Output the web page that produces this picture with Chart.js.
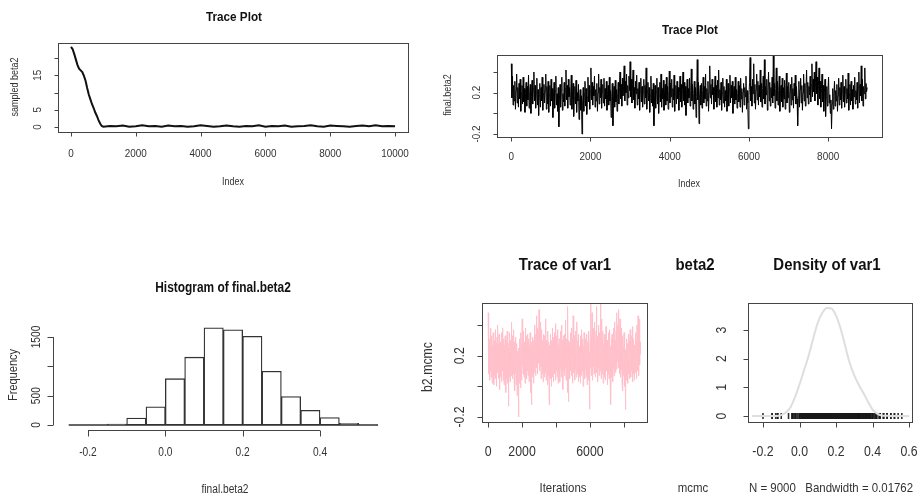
<!DOCTYPE html>
<html>
<head>
<meta charset="utf-8">
<script src="https://cdn.jsdelivr.net/npm/chart.js@4.4.0/dist/chart.umd.min.js"></script>
<style>
  body { margin: 0; background: #fff; }
  #wrap { position: relative; width: 920px; height: 499px; overflow: hidden; }
  #wrap canvas { position: absolute; left: 0; top: 0; }
</style>
</head>
<body>
<div id="wrap">
  <canvas id="burn" width="920" height="499"></canvas>
  <canvas id="trace" width="920" height="499"></canvas>
  <canvas id="hist" width="920" height="499"></canvas>
  <canvas id="mcmcTrace" width="920" height="499"></canvas>
  <canvas id="mcmcDens" width="920" height="499"></canvas>
</div>
<script>
// ---- data ----
// top-left: full chain incl. burn-in
var burnIter = [0, 50, 100, 150, 200, 250, 300, 350, 400, 450, 500, 550, 600, 650, 700, 750, 800, 850, 900, 950,
  1000, 1200, 1400, 1600, 1800, 2000, 2200, 2400, 2600, 2800, 3000, 3200, 3400, 3600, 3800, 4000,
  4200, 4400, 4600, 4800, 5000, 5200, 5400, 5600, 5800, 6000, 6200, 6400, 6600, 6800, 7000,
  7200, 7400, 7600, 7800, 8000, 8200, 8400, 8600, 8800, 9000, 9200, 9400, 9600, 9800, 10000];
var burnBeta2 = [23.2, 22.6, 21.2, 19.6, 18.0, 16.9, 16.4, 15.9, 14.8, 13.4, 11.3, 9.4, 8.0, 6.6, 5.5, 4.2, 3.2, 2.0, 1.0, 0.3,
  0.1, 0.3, 0.2, 0.4, 0.1, 0.2, 0.5, 0.2, 0.3, 0.1, 0.4, 0.2, 0.3, 0.1, 0.2, 0.5,
  0.3, 0.1, 0.2, 0.4, 0.2, 0.1, 0.3, 0.2, 0.5, 0.1, 0.3, 0.2, 0.4, 0.1, 0.2,
  0.3, 0.5, 0.2, 0.1, 0.4, 0.3, 0.2, 0.1, 0.3, 0.4, 0.2, 0.5, 0.2, 0.3, 0.2];

// kept chain (final.beta2 / b2.mcmc), one value per 15 iterations
var traceStep = 15;
var traceBeta2 = [
  0.48, 0.15, 0.36, 0.08, 0.27, 0.12, 0.31, 0.04, 0.22, 0.38, 0.10, 0.25, 0.06, 0.29, 0.14, 0.33, 0.02, 0.20, 0.27, 0.09,
  0.35, 0.11, 0.24, 0.01, 0.19, 0.30, 0.07, 0.26, 0.13, 0.37, 0.05, 0.21, 0.28, 0.00, 0.16, 0.32, 0.09, 0.24, 0.40, 0.12,
  0.27, 0.05, 0.20, 0.34, 0.08, 0.23, -0.02, 0.17, 0.29, 0.06, 0.25, 0.12, 0.35, 0.03, 0.19, 0.28, 0.10, 0.22, 0.38, 0.04,
  0.26, 0.09, 0.31, 0.01, 0.18, 0.27, 0.07, 0.33, 0.12, 0.24, -0.04, 0.16, 0.30, 0.05, 0.21, 0.36, 0.08, 0.19, 0.02, 0.25,
  -0.13, 0.14, 0.28, 0.06, 0.22, 0.35, 0.03, 0.19, 0.11, 0.30, 0.07, 0.24, 0.42, 0.13, 0.27, 0.05, 0.33, 0.16, 0.25, 0.08,
  0.21, 0.37, 0.04, 0.18, 0.29, -0.03, 0.15, 0.26, 0.09, 0.32, 0.01, 0.20, 0.12, 0.28, -0.06, 0.14, 0.23, 0.03, 0.17, -0.20,
  0.10, 0.25, 0.02, 0.19, 0.31, 0.07, 0.24, -0.01, 0.16, 0.35, 0.11, 0.27, 0.04, 0.22, 0.44, 0.13, 0.30, 0.08, 0.26, 0.17,
  0.36, 0.06, 0.23, 0.12, 0.29, 0.02, 0.20, 0.38, 0.09, 0.25, 0.15, 0.33, 0.05, 0.21, 0.28, 0.10, 0.34, 0.07, 0.24, 0.14,
  0.31, 0.03, 0.18, 0.27, 0.08, 0.35, 0.12, 0.22, -0.04, 0.16, 0.29, -0.12, 0.13, 0.26, 0.06, 0.32, 0.11, 0.23, 0.02, 0.19,
  0.30, 0.09, 0.25, 0.40, 0.14, 0.28, 0.07, 0.34, 0.17, 0.26, 0.46, 0.12, 0.31, 0.20, 0.38, 0.08, 0.27, 0.15, 0.36, 0.22,
  0.50, 0.16, 0.33, 0.10, 0.28, 0.42, 0.13, 0.25, 0.05, 0.31, 0.19, 0.37, 0.08, 0.24, 0.14, 0.30, 0.03, 0.21, 0.34, 0.11,
  0.26, 0.06, 0.20, 0.33, 0.09, 0.27, 0.15, 0.44, 0.04, 0.22, 0.30, 0.12, 0.25, 0.01, 0.18, 0.36, 0.10, 0.23, 0.07, 0.29,
  -0.12, 0.13, 0.27, 0.05, 0.21, 0.34, 0.09, 0.25, 0.00, 0.17, 0.30, 0.11, 0.38, 0.06, 0.24, 0.14, 0.32, 0.03, 0.20, 0.28,
  0.08, 0.35, 0.12, 0.26, 0.04, 0.22, 0.41, 0.10, 0.29, 0.16, 0.33, 0.06, 0.24, 0.13, 0.37, 0.02, 0.19, 0.27, 0.09, 0.31,
  0.14, 0.25, 0.03, 0.20, 0.36, 0.11, 0.28, 0.06, 0.23, 0.40, 0.12, 0.30, 0.08, 0.26, -0.02, 0.18, 0.33, 0.10, 0.24, 0.15,
  0.34, 0.07, 0.22, 0.43, 0.12, 0.28, 0.04, 0.19, 0.31, 0.09, 0.25, -0.04, 0.16, 0.52, 0.13, 0.30, -0.10, 0.18, 0.27, 0.08,
  0.29, 0.05, 0.22, 0.35, 0.10, 0.26, 0.14, 0.38, 0.07, 0.24, 0.12, 0.31, 0.02, 0.20, 0.46, 0.15, 0.28, 0.09, 0.33, 0.18,
  0.25, 0.04, 0.21, 0.36, 0.11, 0.27, 0.06, 0.32, 0.15, 0.42, 0.08, 0.23, 0.13, 0.30, 0.03, 0.19, 0.34, 0.10, 0.26, 0.06,
  0.22, 0.12, 0.33, 0.02, 0.18, 0.29, 0.07, 0.24, 0.37, 0.10, 0.27, 0.15, 0.31, 0.00, 0.20, 0.26, 0.09, 0.35, 0.13, 0.23,
  0.05, 0.19, 0.31, 0.11, 0.27, 0.06, 0.34, 0.14, 0.24, 0.01, 0.21, 0.29, 0.08, 0.25, 0.16, 0.36, 0.04, 0.22, 0.10, -0.15,
  0.17, 0.30, 0.54, 0.12, 0.26, 0.07, 0.33, 0.19, 0.48, 0.10, 0.28, 0.04, 0.23, 0.38, 0.13, 0.31, 0.08, 0.27, 0.16, 0.42,
  0.11, 0.29, 0.06, 0.24, 0.36, 0.14, 0.52, 0.09, 0.26, 0.18, 0.33, 0.03, 0.22, 0.40, 0.12, 0.30, 0.07, 0.25, 0.15, 0.35,
  0.10, 0.56, 0.17, 0.29, 0.05, 0.24, 0.44, 0.12, 0.31, 0.08, 0.22, 0.36, 0.02, 0.19, 0.27, 0.11, 0.34, 0.06, 0.25, 0.14,
  0.32, 0.04, 0.21, 0.39, 0.10, 0.26, 0.15, 0.30, 0.01, 0.18, 0.28, 0.08, 0.35, 0.13, 0.24, 0.05, 0.29, 0.17, 0.37, 0.09,
  0.26, 0.14, -0.12, 0.16, 0.31, 0.06, 0.23, 0.34, 0.10, 0.27, 0.03, 0.20, 0.38, 0.12, 0.29, 0.07, 0.24, 0.42, 0.15, 0.30,
  0.09, 0.26, 0.18, 0.36, 0.11, 0.28, 0.48, 0.16, 0.33, 0.21, 0.40, 0.12, 0.30, 0.50, 0.19, 0.35, 0.08, 0.27, 0.44, 0.14,
  0.31, 0.06, 0.24, 0.38, 0.11, 0.27, 0.02, 0.20, 0.33, -0.03, 0.15, 0.26, 0.07, 0.22, 0.35, 0.10, 0.18, 0.00, 0.13, -0.15,
  0.09, 0.24, 0.04, 0.19, 0.31, 0.07, 0.22, 0.12, 0.28, 0.02, 0.17, 0.34, 0.08, 0.25, 0.13, 0.30, 0.05, 0.21, 0.37, 0.11,
  0.26, 0.06, 0.20, 0.33, 0.10, 0.24, 0.14, 0.39, 0.03, 0.19, 0.28, 0.08, 0.31, 0.12, 0.23, 0.04, 0.27, 0.16, 0.35, 0.09,
  0.22, 0.13, 0.30, 0.05, 0.25, 0.40, 0.10, 0.28, 0.17, 0.46, 0.12, 0.33, 0.07, 0.26, 0.19, 0.44, 0.14, 0.29, 0.21, 0.25
];

// histogram of final.beta2
var histMids = [-0.225, -0.175, -0.125, -0.075, -0.025, 0.025, 0.075, 0.125, 0.175, 0.225, 0.275, 0.325, 0.375, 0.425, 0.475, 0.525];
var histCounts = [0, 0, 15, 120, 310, 790, 1156, 1657, 1623, 1512, 917, 484, 250, 128, 30, 5];
var histRange = [-0.25, 0.55];

// density of var1
var densX = [-0.26, -0.15, -0.125, -0.1, -0.075, -0.05, -0.025, 0, 0.025, 0.05, 0.075, 0.1, 0.125, 0.15, 0.175,
  0.2, 0.225, 0.25, 0.275, 0.3, 0.325, 0.35, 0.375, 0.4, 0.425, 0.45, 0.475, 0.5, 0.6];
var densY = [0, 0, 0, 0.03, 0.12, 0.3, 0.65, 1.1, 1.6, 2.1, 2.7, 3.25, 3.6, 3.77, 3.75,
  3.5, 3.05, 2.45, 1.85, 1.42, 1.08, 0.8, 0.5, 0.22, 0.08, 0.02, 0.01, 0, 0];

// tick labels ('' = tick drawn, label dropped like R does)
var burnXTicks = [0, 2000, 4000, 6000, 8000, 10000];
var burnYTicks = [0, 5, 10, 15, 20];
var burnYLabels = ['0', '5', '', '15', ''];
var traceXTicks = [0, 2000, 4000, 6000, 8000];
var traceYTicks = [-0.2, 0, 0.2, 0.4];
var traceYLabels = ['-0.2', '', '0.2', ''];
var histXTicks = [-0.2, 0, 0.2, 0.4];
var histXLabels = ['-0.2', '0.0', '0.2', '0.4'];
var histYTicks = [0, 500, 1000, 1500];
var histYLabels = ['0', '500', '', '1500'];
var mcmcXLabels = ['0', '2000', '', '6000', ''];
var densXTicks = [-0.2, 0, 0.2, 0.4, 0.6];
var densXLabels = ['-0.2', '0.0', '0.2', '0.4', '0.6'];
var densYTicks = [0, 1, 2, 3];

function pts(xs, ys) {
  return xs.map(function (x, i) { return {x: x, y: ys[i]}; });
}
var tracePts = traceBeta2.map(function (v, i) { return {x: i * traceStep + 1, y: v}; });
var rugPts = traceBeta2.map(function (v) { return {x: v, y: 0}; });

// draws text, optionally rotated and a bit narrowed like the original
function txt(ctx, s, x, y, font, rot, sx, align) {
  ctx.save();
  ctx.translate(x, y);
  if (rot) ctx.rotate(-Math.PI / 2);
  ctx.scale(sx || 1, 1);
  ctx.font = font;
  ctx.textAlign = align || 'center';
  ctx.textBaseline = 'middle';
  ctx.fillText(s, 0, 0);
  ctx.restore();
}

// R base-graphics look: box, tick axes, rotated y labels
function rStyle(d) {
  return {
    id: 'rStyle',
    afterDraw: function (chart) {
      var ctx = chart.ctx, a = chart.chartArea, xs = chart.scales.x, ys = chart.scales.y;
      ctx.save();
      ctx.strokeStyle = '#444';
      ctx.fillStyle = '#333';
      ctx.lineWidth = 1;
      if (d.box) ctx.strokeRect(Math.round(a.left) + 0.5, Math.round(a.top) + 0.5, Math.round(a.right - a.left), Math.round(a.bottom - a.top));
      // x axis
      var yb = Math.round(a.bottom) + 0.5;
      var xa = xs.getPixelForValue(d.xTicks[0]), xb = xs.getPixelForValue(d.xTicks[d.xTicks.length - 1]);
      ctx.beginPath();
      ctx.moveTo(xa, yb); ctx.lineTo(xb, yb);
      d.xTicks.forEach(function (t) {
        var px = Math.round(xs.getPixelForValue(t)) + 0.5;
        ctx.moveTo(px, yb); ctx.lineTo(px, yb + d.tl);
      });
      // y axis
      var xl = Math.round(a.left) + 0.5;
      var ya = ys.getPixelForValue(d.yTicks[0]), yc = ys.getPixelForValue(d.yTicks[d.yTicks.length - 1]);
      ctx.moveTo(xl, ya); ctx.lineTo(xl, yc);
      d.yTicks.forEach(function (t) {
        var py = Math.round(ys.getPixelForValue(t)) + 0.5;
        ctx.moveTo(xl, py); ctx.lineTo(xl - d.tl, py);
      });
      ctx.stroke();
      d.xTicks.forEach(function (t, i) {
        var s = d.xLabels ? d.xLabels[i] : String(t);
        if (s) txt(ctx, s, xs.getPixelForValue(t), d.xLabY, d.tickFont, false, d.sx);
      });
      d.yTicks.forEach(function (t, i) {
        var s = d.yLabels ? d.yLabels[i] : String(t);
        if (s) txt(ctx, s, d.yLabX, ys.getPixelForValue(t), d.tickFont, true, d.sx);
      });
      (d.texts || []).forEach(function (t) {
        ctx.fillStyle = t.color || '#333';
        txt(ctx, t.s, t.x, t.y, t.font, t.rot, d.sx, t.align);
      });
      ctx.restore();
    }
  };
}

function makePanel(id, type, datasets, area, xr, yr, deco) {
  return new Chart(document.getElementById(id), {
    type: type,
    data: {datasets: datasets},
    options: {
      responsive: false,
      animation: false,
      events: [],
      layout: {padding: {left: area[0], top: area[1], right: 920 - area[2], bottom: 499 - area[3]}},
      scales: {
        x: {type: 'linear', display: false, offset: false, min: xr[0], max: xr[1], ticks: {stepSize: 100000}},
        y: {type: 'linear', display: false, min: yr[0], max: yr[1]}
      },
      plugins: {legend: {display: false}, tooltip: {enabled: false}}
    },
    plugins: [rStyle(deco)]
  });
}

var F = 'Liberation Sans, Arial, sans-serif';

// 1. Trace Plot (with burn-in)
makePanel('burn', 'line', [{
  data: pts(burnIter, burnBeta2), borderColor: '#111', borderWidth: 2, pointRadius: 0, tension: 0
}], [58, 43, 408, 132], [-400, 10400], [-1.45, 24.35], {
  box: true, tl: 4, xTicks: burnXTicks, yTicks: burnYTicks, yLabels: burnYLabels,
  xLabY: 154, yLabX: 38, tickFont: '11px ' + F, sx: 0.9,
  texts: [
    {s: 'Trace Plot', x: 234, y: 17, font: 'bold 13px ' + F, color: '#111'},
    {s: 'Index', x: 233, y: 182, font: '10px ' + F},
    {s: 'sampled beta2', x: 15, y: 87, font: '10px ' + F, rot: true}
  ]
});

// 2. Trace Plot (kept chain)
makePanel('trace', 'line', [{
  data: tracePts, borderColor: '#000', borderWidth: 1, pointRadius: 0, tension: 0
}], [497, 55, 882, 137], [-360, 9360], [-0.229, 0.565], {
  box: true, tl: 4, xTicks: traceXTicks, yTicks: traceYTicks, yLabels: traceYLabels,
  xLabY: 157, yLabX: 477, tickFont: '11px ' + F, sx: 0.9,
  texts: [
    {s: 'Trace Plot', x: 690, y: 30, font: 'bold 13px ' + F, color: '#111'},
    {s: 'Index', x: 689, y: 184, font: '10px ' + F},
    {s: 'final.beta2', x: 448, y: 95, font: '10px ' + F, rot: true}
  ]
});

// 3. Histogram of final.beta2
makePanel('hist', 'bar', [{
  type: 'line', data: [{x: histRange[0], y: 0}, {x: histRange[1], y: 0}],
  borderColor: '#333', borderWidth: 1.5, pointRadius: 0
}, {
  data: pts(histMids, histCounts), backgroundColor: '#fff', borderColor: '#333', borderWidth: 1.3,
  borderSkipped: false, barPercentage: 1, categoryPercentage: 1
}], [53, 323, 390, 430], [-0.2905, 0.581], [-85, 1739], {
  box: false, tl: 6, xTicks: histXTicks, xLabels: histXLabels, yTicks: histYTicks, yLabels: histYLabels,
  xLabY: 453, yLabX: 37, tickFont: '12px ' + F, sx: 0.85,
  texts: [
    {s: 'Histogram of final.beta2', x: 223, y: 288, font: 'bold 14px ' + F, color: '#111'},
    {s: 'final.beta2', x: 225, y: 490, font: '12px ' + F},
    {s: 'Frequency', x: 13, y: 375, font: '13px ' + F, rot: true}
  ]
});

// 4. Trace of var1 (coda)
makePanel('mcmcTrace', 'line', [{
  data: tracePts, borderColor: '#FFC0CB', borderWidth: 1, pointRadius: 0, tension: 0
}], [482, 303, 647, 422], [-360, 9360], [-0.2326, 0.5435], {
  box: true, tl: 5, xTicks: traceXTicks, xLabels: mcmcXLabels, yTicks: traceYTicks, yLabels: traceYLabels,
  xLabY: 452, yLabX: 460, tickFont: '14px ' + F, sx: 0.88,
  texts: [
    {s: 'Trace of var1', x: 565, y: 265, font: 'bold 17px ' + F, color: '#111'},
    {s: 'beta2', x: 695, y: 265, font: 'bold 17px ' + F, color: '#111'},
    {s: 'Iterations', x: 563, y: 488, font: '13px ' + F},
    {s: 'b2.mcmc', x: 428, y: 367, font: '14px ' + F, rot: true}
  ]
});

// 5. Density of var1 (coda)
makePanel('mcmcDens', 'line', [{
  data: pts(densX, densY), borderColor: '#dedede', borderWidth: 2, pointRadius: 0, cubicInterpolationMode: 'monotone'
}, {
  type: 'scatter', data: rugPts, showLine: false, pointStyle: 'line', rotation: 90, radius: 3,
  borderColor: 'rgba(25,25,25,0.9)', borderWidth: 1.6
}], [748, 303, 912, 422], [-0.282, 0.616], [-0.209, 3.94], {
  box: true, tl: 5, xTicks: densXTicks, xLabels: densXLabels, yTicks: densYTicks,
  xLabY: 452, yLabX: 722, tickFont: '14px ' + F, sx: 0.88,
  texts: [
    {s: 'Density of var1', x: 827, y: 265, font: 'bold 17px ' + F, color: '#111'},
    {s: 'mcmc', x: 693, y: 488, font: '13px ' + F},
    {s: 'N = 9000   Bandwidth = 0.01762', x: 749, y: 488, font: '13px ' + F, align: 'left'}
  ]
});
</script>
</body>
</html>
